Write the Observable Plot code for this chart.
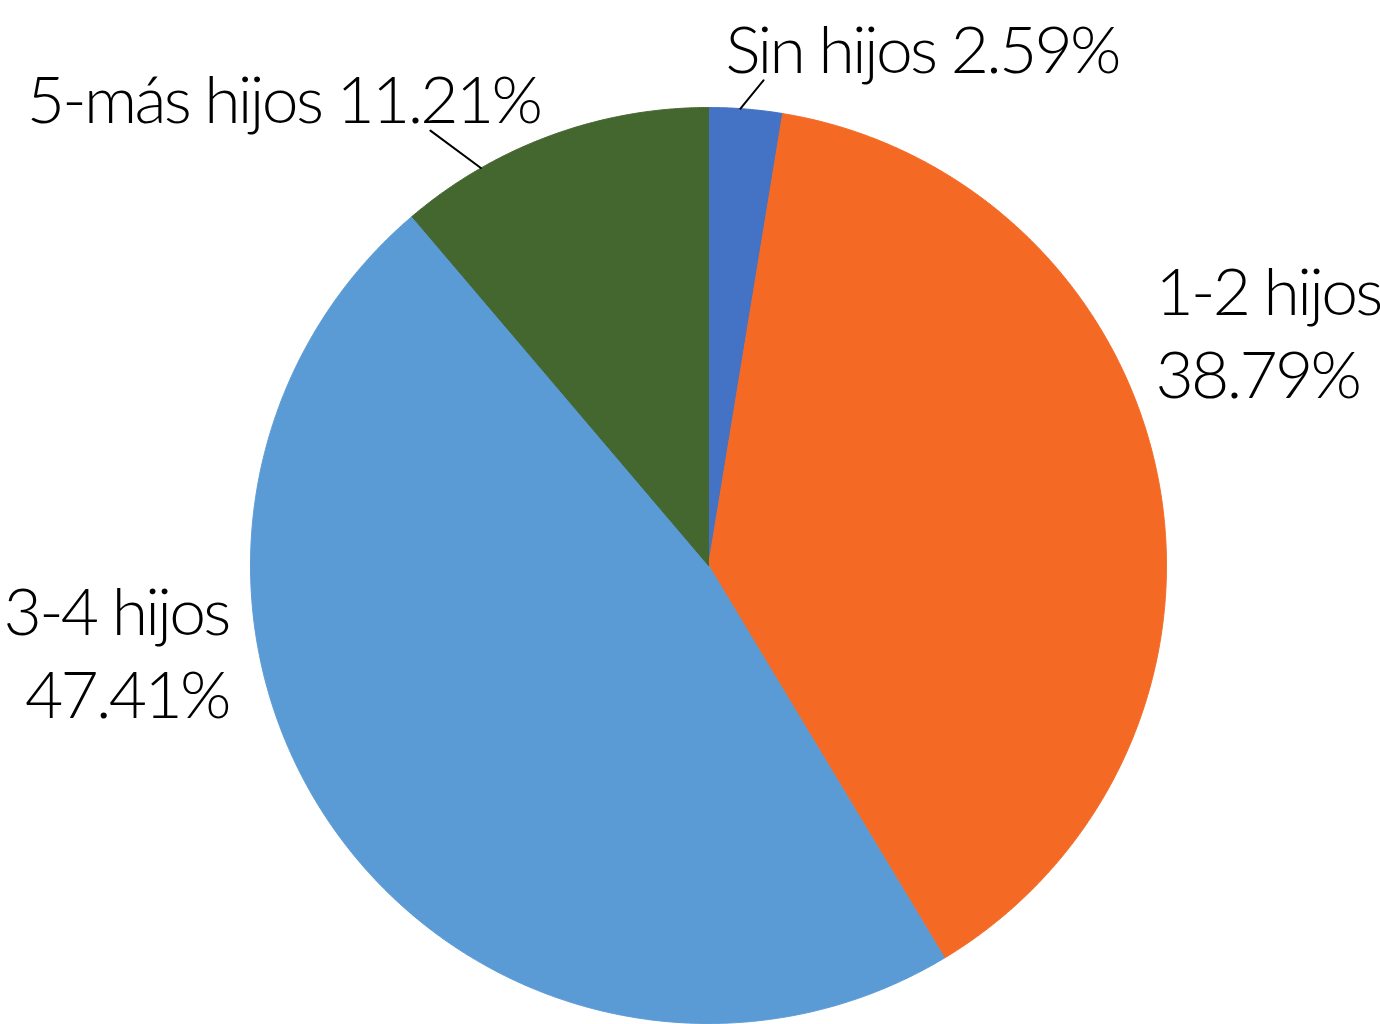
<!DOCTYPE html>
<html>
<head>
<meta charset="utf-8">
<script src="https://cdn.jsdelivr.net/npm/d3@7"></script>
<script src="https://cdn.jsdelivr.net/npm/@observablehq/plot@0.6"></script>
<style>
  html, body { margin: 0; padding: 0; background: #ffffff; }
  #chart svg { display: block; }
</style>
</head>
<body>
<div id="chart"></div>
<script>
// ---- data ----
const categories = ["Sin hijos", "1-2 hijos", "3-4 hijos", "5-más hijos"];
const values = [2.59, 38.79, 47.41, 11.21];
const colors = ["#4472C4", "#F46A25", "#5B9BD5", "#44662F"];
const labelSeparators = [" ", "\n", "\n", " "];

// ---- layout (polar: angle in degrees clockwise from 12 o'clock, radius in pie radii) ----
const labelAngles = [1.97, 69.5, 252.4, 339.2];
const labelRadii = [1.077, 1.042, 1.099, 1.0345];
const labelAnchors = ["start", "start", "end", "end"];
const leaderLines = [
  {cat: "Sin hijos", a1: 4.0, r1: 1.0, a2: 6.47, r2: 1.066},
  {cat: "5-más hijos", a1: 330.2, r1: 1.0, a2: 327.4, r2: 1.127}
];

const W = 1380, H = 1024, R = 458, CX = 708, CY = 565;
const rad = d => d * Math.PI / 180;
const polar = (aRad, r) => ({x: r * Math.sin(aRad), y: r * Math.cos(aRad)});

const arcs = d3.pie().sort(null).value(d => d)(values);

const sliceMarks = arcs.map((a, i) => {
  const pts = [{x: 0, y: 0}];
  const n = Math.max(2, Math.ceil((a.endAngle - a.startAngle) / rad(0.25)));
  for (let k = 0; k <= n; k++) {
    pts.push(polar(a.startAngle + (a.endAngle - a.startAngle) * k / n, 1));
  }
  pts.push({x: 0, y: 0});
  return Plot.line(pts, {x: "x", y: "y", fill: colors[i], stroke: colors[i], strokeWidth: 1, curve: "linear"});
});

const labels = categories.map((c, i) => {
  const p = polar(rad(labelAngles[i]), labelRadii[i]);
  return {text: `${c}${labelSeparators[i]}${values[i].toFixed(2)}%`, x: p.x, y: p.y, anchor: labelAnchors[i]};
});

const leaderData = leaderLines.flatMap(l => [
  {cat: l.cat, ...polar(rad(l.a1), l.r1)},
  {cat: l.cat, ...polar(rad(l.a2), l.r2)}
]);

const chart = Plot.plot({
  width: W,
  height: H,
  margin: 0,
  x: {domain: [-CX / R, (W - CX) / R], axis: null},
  y: {domain: [-(H - CY) / R, CY / R], axis: null},
  style: {fontFamily: "Lato, 'Noto Sans', sans-serif", background: "#ffffff"},
  marks: [
    ...sliceMarks,
    Plot.line(leaderData, {x: "x", y: "y", z: "cat", stroke: "#000000", strokeWidth: 2}),
    ...["start", "end"].map(anc => Plot.text(labels.filter(d => d.anchor === anc), {
      x: "x", y: "y", text: "text", textAnchor: anc, lineAnchor: "bottom",
      fontSize: 66, fontWeight: 300, lineHeight: 1.26, fill: "#000000"
    }))
  ]
});
d3.select(chart).selectAll("text").attr("letter-spacing", "-2.7px");
document.getElementById("chart").appendChild(chart);
</script>
</body>
</html>
